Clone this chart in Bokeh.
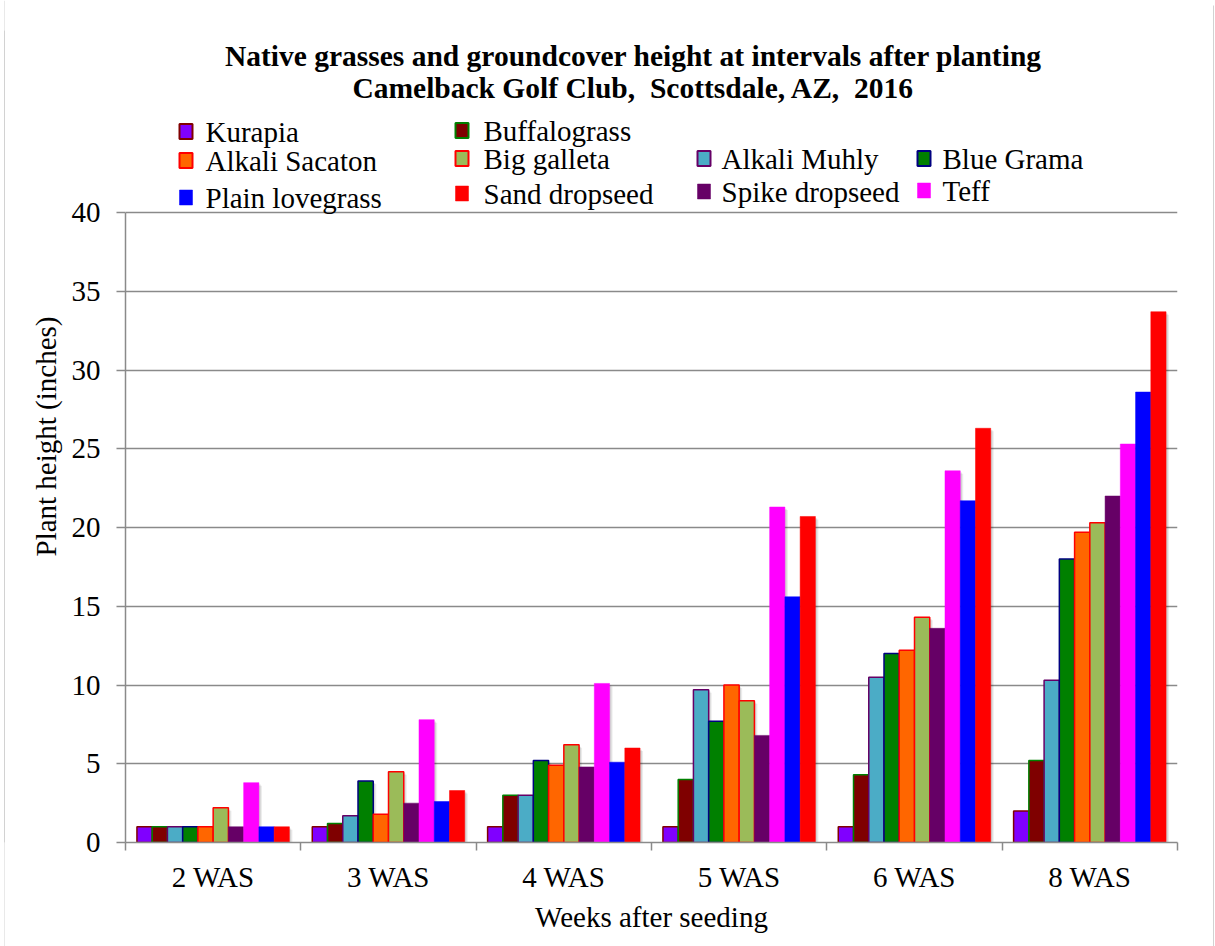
import numpy as np
from bokeh.plotting import figure
from bokeh.models import Range1d, FixedTicker, Spacer
from bokeh.layouts import row, column
from bokeh.core.properties import value
from bokeh.embed import file_html
from bokeh.resources import INLINE

# ---- data -------------------------------------------------------------
weeks = ["2 WAS", "3 WAS", "4 WAS", "5 WAS", "6 WAS", "8 WAS"]

kurapia = [1.0, 1.0, 1.0, 1.0, 1.0, 2.0]
buffalograss = [1.0, 1.2, 3.0, 4.0, 4.3, 5.2]
alkali_muhly = [1.0, 1.7, 3.0, 9.7, 10.5, 10.3]
blue_grama = [1.0, 3.9, 5.2, 7.7, 12.0, 18.0]
alkali_sacaton = [1.0, 1.8, 4.9, 10.0, 12.2, 19.7]
big_galleta = [2.2, 4.5, 6.2, 9.0, 14.3, 20.3]
spike_dropseed = [1.0, 2.5, 4.8, 6.8, 13.6, 22.0]
teff = [3.8, 7.8, 10.1, 21.3, 23.6, 25.3]
plain_lovegrass = [1.0, 2.6, 5.1, 15.6, 21.7, 28.6]
sand_dropseed = [1.0, 3.3, 6.0, 20.7, 26.3, 33.7]

y_ticks = list(range(0, 41, 5))

# name, values, fill colour, outline colour (None = no outline)
series = [
    ("Kurapia", kurapia, "#8000FF", "#800000"),
    ("Buffalograss", buffalograss, "#7F0000", "#008000"),
    ("Alkali Muhly", alkali_muhly, "#4BACC6", "#660066"),
    ("Blue Grama", blue_grama, "#008000", "#000080"),
    ("Alkali Sacaton", alkali_sacaton, "#FF6600", "#FF0000"),
    ("Big galleta", big_galleta, "#9BBB59", "#FF0000"),
    ("Spike dropseed", spike_dropseed, "#660066", None),
    ("Teff", teff, "#FF00FF", None),
    ("Plain lovegrass", plain_lovegrass, "#0000FF", None),
    ("Sand dropseed", sand_dropseed, "#FF0000", None),
]

# legend layout: (name, column, row centre in page pixels)
legend_rows = [
    ("Kurapia", 0, 131), ("Buffalograss", 1, 130),
    ("Alkali Sacaton", 0, 160), ("Big galleta", 1, 158),
    ("Alkali Muhly", 2, 158), ("Blue Grama", 3, 158),
    ("Plain lovegrass", 0, 197), ("Sand dropseed", 1, 193),
    ("Spike dropseed", 2, 191), ("Teff", 3, 190),
]
legend_square_x = [179, 455, 697, 917]
legend_text_x = [205, 483, 721, 942]

# ---- page geometry (pixels) ------------------------------------------
PAGE_H = 946
LEFT_PAD = 5          # spacer + edge line on the left
FIG_W = 1208
FL, FR = 125, 1177    # plot frame left / right
FT, FB = 30, 842      # plot frame top / bottom
Y_TOP_TICK = 212      # where the value 40 sits
px_per_unit = (FB - Y_TOP_TICK) / 40.0
y_end = (FB - FT) / px_per_unit

SERIF = "Liberation Serif"
GRAY = "#8a8a8a"

p = figure(
    width=FIG_W, height=PAGE_H,
    x_range=Range1d(-0.5, 5.5), y_range=Range1d(0, y_end),
    output_backend="svg", toolbar_location=None,
    min_border_left=FL - LEFT_PAD, min_border_right=LEFT_PAD + FIG_W - FR,
    min_border_top=FT, min_border_bottom=PAGE_H - FB,
)
p.extra_x_ranges = {"px": Range1d(FL, FR)}
p.extra_y_ranges = {"px": Range1d(FB, FT)}
p.outline_line_color = None
p.background_fill_color = "white"
p.border_fill_color = "white"

# ---- bars -------------------------------------------------------------
n = len(series)
bar_w = 1.0 / (n + 1.5)
xs = np.arange(len(weeks), dtype=float)
dx_px = 1.0 / ((FR - FL) / 6.0)
dy_px = 1.0 / px_per_unit

for i, (name, vals, fill, line) in enumerate(series):
    off = (i - (n - 1) / 2.0) * bar_w
    vals = np.array(vals)
    # soft drop shadow
    for k, a in ((3.0, 0.08), (1.8, 0.10)):
        p.vbar(x=xs + off + k * dx_px, top=vals - k * dy_px, bottom=0, width=bar_w,
               fill_color="black", fill_alpha=a, line_color=None)
for i, (name, vals, fill, line) in enumerate(series):
    off = (i - (n - 1) / 2.0) * bar_w
    p.vbar(x=xs + off, top=vals, bottom=0, width=bar_w,
           fill_color=fill, line_color=line if line else fill,
           line_width=1.5 if line else 0.5)

# ---- title ------------------------------------------------------------
title_lines = ["Native grasses and groundcover height at intervals after planting",
               "Camelback Golf Club, \u00a0Scottsdale, AZ, \u00a02016"]
for txt, ty in zip(title_lines, [55, 87]):
    p.text(x=[633], y=[ty], text=[txt],
           x_range_name="px", y_range_name="px",
           text_font=value(SERIF), text_font_size="29.5px", text_font_style="bold",
           text_align="center", text_baseline="middle", text_color="black")

# ---- legend -----------------------------------------------------------
style = {s[0]: (s[2], s[3]) for s in series}
for name, col, yc in legend_rows:
    fill, line = style[name]
    sx = legend_square_x[col]
    p.quad(left=[sx], right=[sx + 13], top=[yc - 7.5], bottom=[yc + 7.5],
           x_range_name="px", y_range_name="px",
           fill_color=fill, line_color=line if line else fill,
           line_width=2 if line else 0.5)
    p.text(x=[legend_text_x[col]], y=[yc], text=[name],
           x_range_name="px", y_range_name="px",
           text_font=value(SERIF), text_font_size="29px", text_font_style="normal",
           text_align="left", text_baseline="middle", text_color="black")

# ---- axes -------------------------------------------------------------
yax = p.yaxis[0]
yax.bounds = (0, 40)
yax.ticker = FixedTicker(ticks=y_ticks)
yax.axis_label = "Plant height (inches)"
yax.axis_label_text_font = SERIF
yax.axis_label_text_font_size = "29px"
yax.axis_label_text_font_style = "normal"
yax.axis_label_text_color = "black"
yax.axis_label_standoff = 7
yax.major_label_text_font = SERIF
yax.major_label_text_font_size = "29px"
yax.major_label_text_color = "black"
yax.major_label_standoff = 16
yax.major_tick_out = 9
yax.major_tick_in = 0
yax.minor_tick_line_color = None
yax.axis_line_color = GRAY
yax.axis_line_width = 1.5
yax.major_tick_line_color = GRAY
yax.major_tick_line_width = 1.5

xax = p.xaxis[0]
xax.ticker = FixedTicker(ticks=list(range(len(weeks))),
                         minor_ticks=[i - 0.5 for i in range(len(weeks) + 1)])
xax.major_label_overrides = {i: w for i, w in enumerate(weeks)}
xax.axis_label = "Weeks after seeding"
xax.axis_label_text_font = SERIF
xax.axis_label_text_font_size = "29px"
xax.axis_label_text_font_style = "normal"
xax.axis_label_text_color = "black"
xax.axis_label_standoff = 5
xax.major_label_text_font = SERIF
xax.major_label_text_font_size = "29px"
xax.major_label_text_color = "black"
xax.major_label_standoff = 10
xax.major_tick_line_color = None
xax.major_tick_out = 8
xax.major_tick_in = 0
xax.minor_tick_out = 8
xax.minor_tick_in = 0
xax.minor_tick_line_color = GRAY
xax.minor_tick_line_width = 1.5
xax.axis_line_color = GRAY
xax.axis_line_width = 1.5

p.xgrid.visible = False
p.ygrid.ticker = FixedTicker(ticks=y_ticks[1:])
p.ygrid.grid_line_color = GRAY
p.ygrid.grid_line_width = 1.5


# ---- thin page edges --------------------------------------------------
def edge(h):
    e = figure(width=1, height=h, output_backend="svg", toolbar_location=None,
               min_border=0, x_axis_type=None, y_axis_type=None)
    e.outline_line_color = None
    e.background_fill_color = "#a6a6a6"
    e.border_fill_color = "#a6a6a6"
    return e


layout = row(
    Spacer(width=4, height=PAGE_H),
    edge(PAGE_H),
    p,
    column(Spacer(width=1, height=5), edge(PAGE_H - 5)),
    Spacer(width=1, height=PAGE_H),
)

open("out.html", "w").write(file_html(layout, INLINE))
